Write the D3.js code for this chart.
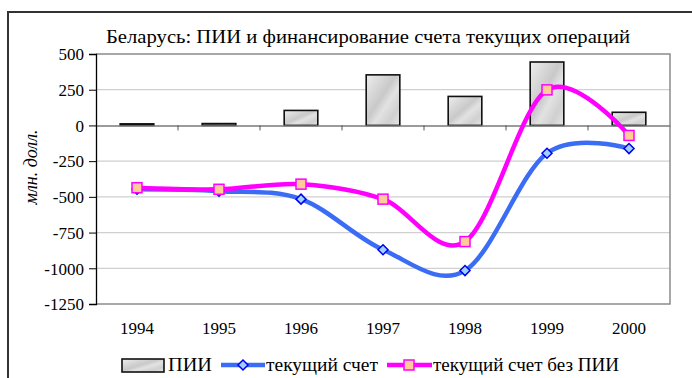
<!DOCTYPE html>
<html>
<head>
<meta charset="utf-8">
<script src="https://cdn.jsdelivr.net/npm/d3@7/dist/d3.min.js"></script>
<style>
  @font-face { font-family: "ChartSerif"; src: local("Liberation Serif"), local("LiberationSerif"), local("LiberationSerif-Regular"); font-style: normal; }
  @font-face { font-family: "ChartSerif"; src: local("Liberation Serif Italic"), local("LiberationSerif-Italic"); font-style: italic; }
</style>
</head>
<body style="margin:0">
<svg id="chart" width="692" height="378"></svg>
<script>
// Belarus: FDI and current account financing, USD million
const years = ["1994", "1995", "1996", "1997", "1998", "1999", "2000"];
const fdi = [11, 13, 105, 354, 203, 444, 92];
const currentAccount = [-447, -460, -516, -870, -1016, -195, -162];
const currentAccountFdi = [-436, -447, -411, -516, -813, 249, -70];
const yTicks = [500, 250, 0, -250, -500, -750, -1000, -1250];

const titleText = "Беларусь: ПИИ и финансирование счета текущих операций";
const yLabel = "млн. долл.";
const legendLabels = ["ПИИ", "текущий счет", "текущий счет без ПИИ"];

const serifFaces = ["Liberation Serif", "ChartSerif", "Times New Roman", "Times"];
const FONT = serifFaces.map(f => `'${f}'`).join(", ");

const svg = d3.select("#chart").style("font-family", FONT);
const plot = { left: 96, right: 670, top: 54, bottom: 304 };

const x = d3.scaleBand().domain(years).range([plot.left, plot.right]).padding(0);
const y = d3.scaleLinear().domain([-1250, 500]).range([plot.bottom, plot.top]);
const barW = x.bandwidth() * 0.41;
const cx = d => x(d) + x.bandwidth() / 2;

// Marble-like grey fill for the FDI bars
const defs = svg.append("defs");
const grad = defs.append("linearGradient").attr("id", "marble")
  .attr("x1", "0").attr("y1", "0").attr("x2", "1").attr("y2", "1");
[["0%", "#eeeeee"], ["25%", "#d9d9d9"], ["45%", "#c9c9c9"], ["60%", "#e2e2e2"],
 ["80%", "#d0d0d0"], ["100%", "#e6e6e6"]]
  .forEach(([o, c]) => grad.append("stop").attr("offset", o).attr("stop-color", c));

// Outer chart frame
svg.append("rect").attr("x", 8).attr("y", 12).attr("width", 700).attr("height", 400)
  .attr("fill", "none").attr("stroke", "#333").attr("stroke-width", 2);

// Title
svg.append("text").attr("x", 368).attr("y", 43).attr("text-anchor", "middle")
  .style("font-family", FONT)
  .attr("font-size", 19).attr("fill", "#000")
  .attr("textLength", 524).attr("lengthAdjust", "spacingAndGlyphs")
  .text(titleText);

// Gridlines
svg.append("g").selectAll("line").data(yTicks.filter(t => t !== 0 && t !== 500 && t !== -1250))
  .join("line")
  .attr("x1", plot.left).attr("x2", plot.right)
  .attr("y1", d => y(d)).attr("y2", d => y(d))
  .attr("stroke", "#d0d0d0").attr("stroke-width", 1.2);

// Plot area frame (top, right, bottom)
svg.append("path")
  .attr("d", `M${plot.left},${y(500)}H${plot.right}V${y(-1250)}H${plot.left}`)
  .attr("fill", "none").attr("stroke", "#8c8c8c").attr("stroke-width", 1.5);

// Bars
svg.append("g").selectAll("rect").data(years).join("rect")
  .attr("x", (d, i) => cx(d) - barW / 2)
  .attr("y", (d, i) => y(fdi[i]))
  .attr("width", barW)
  .attr("height", (d, i) => y(0) - y(fdi[i]))
  .attr("fill", "url(#marble)")
  .attr("stroke", "#111").attr("stroke-width", 1.6);

// Zero line with category tick marks
const xAxis = d3.axisBottom(x).tickSize(0).tickFormat("");
const gx = svg.append("g").attr("transform", `translate(0,${y(0)})`).call(xAxis);
gx.select(".domain").attr("stroke", "#7a7a7a").attr("stroke-width", 1.5);
gx.selectAll(".tick").remove();
gx.selectAll("line.boundary").data(d3.range(1, years.length)).join("line")
  .attr("class", "boundary")
  .attr("x1", i => plot.left + i * x.step()).attr("x2", i => plot.left + i * x.step())
  .attr("y1", 0).attr("y2", 5).attr("stroke", "#555").attr("stroke-width", 1);

// Year labels
svg.append("g").selectAll("text").data(years).join("text")
  .attr("x", d => cx(d)).attr("y", 334).attr("text-anchor", "middle")
  .style("font-family", FONT)
  .attr("font-size", 17).text(d => d);

// Left axis
const yAxis = d3.axisLeft(y).tickValues(yTicks).tickSize(7).tickPadding(5)
  .tickFormat(d => String(d).replace("\u2212", "-"));
const gy = svg.append("g").attr("transform", `translate(${plot.left},0)`).call(yAxis);
gy.attr("font-family", null).attr("font-size", null);
gy.select(".domain").attr("stroke", "#000").attr("stroke-width", 1.3);
gy.selectAll(".tick line").attr("stroke", "#000");
gy.selectAll(".tick text").attr("fill", "#000").attr("dy", "0.34em")
  .style("font-family", FONT).attr("font-size", 17);

// Y axis title
svg.append("text")
  .attr("transform", `translate(37,${(plot.top + plot.bottom) / 2 - 12}) rotate(-90)`)
  .style("font-family", FONT)
  .attr("text-anchor", "middle").attr("font-size", 18).style("font-style", "italic")
  .text(yLabel);

// Smoothed lines
const line = d3.line().x((d, i) => cx(years[i])).y(d => y(d))
  .curve(d3.curveCardinal.tension(0));

const blue = "#3b6cf5";
const magenta = "#ff00ff";

svg.append("path").datum(currentAccount).attr("d", line)
  .attr("fill", "none").attr("stroke", blue).attr("stroke-width", 4.5)
  .attr("stroke-linejoin", "round");
svg.append("path").datum(currentAccountFdi).attr("d", line)
  .attr("fill", "none").attr("stroke", magenta).attr("stroke-width", 4.5)
  .attr("stroke-linejoin", "round");

function drawDiamond(sel, px, py) {
  sel.append("path")
    .attr("d", `M${px},${py - 5}L${px + 5},${py}L${px},${py + 5}L${px - 5},${py}Z`)
    .attr("fill", "#9fd0ff").attr("stroke", "#0000ee").attr("stroke-width", 1.5);
}
function drawSquare(sel, px, py) {
  sel.append("rect").attr("x", px - 5).attr("y", py - 5).attr("width", 10).attr("height", 10)
    .attr("fill", "#ffcc99").attr("stroke", magenta).attr("stroke-width", 1.5);
}

const mBlue = svg.append("g");
currentAccount.forEach((v, i) => drawDiamond(mBlue, cx(years[i]), y(v)));
const mPink = svg.append("g");
currentAccountFdi.forEach((v, i) => drawSquare(mPink, cx(years[i]), y(v)));

// Legend
const lg = svg.append("g");
const ly = 365;
lg.append("rect").attr("x", 122).attr("y", ly - 6).attr("width", 42).attr("height", 13)
  .attr("fill", "url(#marble)").attr("stroke", "#111").attr("stroke-width", 1.6);
lg.append("text").attr("x", 168).attr("y", ly + 6)
  .style("font-family", FONT).attr("font-size", 18)
  .attr("textLength", 44).attr("lengthAdjust", "spacingAndGlyphs").text(legendLabels[0]);

lg.append("line").attr("x1", 221).attr("x2", 265).attr("y1", ly).attr("y2", ly)
  .attr("stroke", blue).attr("stroke-width", 4.5);
drawDiamond(lg, 243, ly);
lg.append("text").attr("x", 266).attr("y", ly + 6)
  .style("font-family", FONT).attr("font-size", 18)
  .attr("textLength", 112).attr("lengthAdjust", "spacingAndGlyphs").text(legendLabels[1]);

lg.append("line").attr("x1", 387).attr("x2", 432).attr("y1", ly).attr("y2", ly)
  .attr("stroke", magenta).attr("stroke-width", 4.5);
drawSquare(lg, 409, ly);
lg.append("text").attr("x", 433).attr("y", ly + 6)
  .style("font-family", FONT).attr("font-size", 18)
  .attr("textLength", 186).attr("lengthAdjust", "spacingAndGlyphs").text(legendLabels[2]);
</script>
</body>
</html>
